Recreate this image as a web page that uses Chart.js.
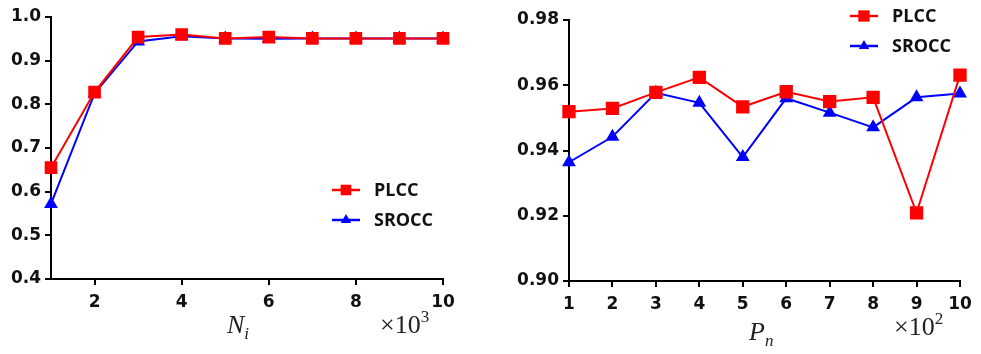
<!DOCTYPE html>
<html>
<head>
<meta charset="utf-8">
<script src="https://cdn.jsdelivr.net/npm/chart.js"></script>
<style>
  body { margin: 0; background: #fff; }
  .wrap { display: flex; width: 981px; height: 354px; }
  .box { position: relative; height: 354px; }
</style>
</head>
<body>
<div class="wrap">
  <div class="box" style="width:490px"><canvas id="left"></canvas></div>
  <div class="box" style="width:491px"><canvas id="right"></canvas></div>
</div>
<script>
// left panel: N_i (x10^3)
const niValues = [1, 2, 3, 4, 5, 6, 7, 8, 9, 10]
const niPlcc = [0.655, 0.828, 0.954, 0.960, 0.951, 0.954, 0.951, 0.951, 0.951, 0.951]
const niSrocc = [0.572, 0.825, 0.944, 0.956, 0.951, 0.950, 0.951, 0.951, 0.951, 0.951]
const niTicksX = [2, 4, 6, 8, 10]
const niTicksY = [0.4, 0.5, 0.6, 0.7, 0.8, 0.9, 1.0]

// right panel: P_n (x10^2)
const pnValues = [1, 2, 3, 4, 5, 6, 7, 8, 9, 10]
const pnPlcc = [0.9519, 0.9529, 0.9578, 0.9624, 0.9534, 0.9580, 0.9550, 0.9563, 0.9209, 0.9631]
const pnSrocc = [0.9364, 0.9442, 0.9577, 0.9546, 0.9380, 0.9560, 0.9516, 0.9471, 0.9563, 0.9575]
const pnTicksX = [1, 2, 3, 4, 5, 6, 7, 8, 9, 10]
const pnTicksY = [0.90, 0.92, 0.94, 0.96, 0.98]

const RED = '#ff0000'
const BLUE = '#0000ff'
const tickFont = { family: 'DejaVu Sans', size: 17, weight: 'bold' }

function toPoints(xs, ys) {
  return xs.map((x, i) => ({ x: x, y: ys[i] }))
}

function drawMarker(ctx, style, x, y, r, color) {
  ctx.fillStyle = color
  ctx.beginPath()
  if (style === 'rect') {
    const s = Math.SQRT1_2 * r
    ctx.rect(x - s, y - s, 2 * s, 2 * s)
  } else {
    ctx.moveTo(x, y - r)
    ctx.lineTo(x + Math.sin(2 * Math.PI / 3) * r, y - Math.cos(2 * Math.PI / 3) * r)
    ctx.lineTo(x + Math.sin(4 * Math.PI / 3) * r, y - Math.cos(4 * Math.PI / 3) * r)
    ctx.closePath()
  }
  ctx.fill()
}

// legend + math-style axis titles drawn on top of the chart
const decorations = {
  id: 'decorations',
  afterDraw(chart, args, opts) {
    const ctx = chart.ctx
    ctx.save()
    chart.data.datasets.forEach((ds, i) => {
      const y = opts.legendY + i * 30
      ctx.strokeStyle = ds.borderColor
      ctx.lineWidth = 2.5
      ctx.beginPath()
      ctx.moveTo(opts.legendX, y)
      ctx.lineTo(opts.legendX + 28, y)
      ctx.stroke()
      drawMarker(ctx, ds.pointStyle, opts.legendX + 14, y, ds.pointRadius, ds.backgroundColor)
      ctx.fillStyle = '#111'
      ctx.font = 'bold 18px "Open Sans"'
      ctx.textBaseline = 'middle'
      ctx.fillText(ds.label, opts.legendX + 42, y + 1)
    })
    // axis title, N with subscript i
    ctx.fillStyle = '#222'
    ctx.textBaseline = 'alphabetic'
    ctx.font = 'italic 26px "Liberation Serif"'
    ctx.fillText(opts.title, opts.titleX, opts.titleY)
    const w = ctx.measureText(opts.title).width
    ctx.font = 'italic 17px "Liberation Serif"'
    ctx.fillText(opts.sub, opts.titleX + w, opts.titleY + 6)
    // multiplier
    ctx.font = '26px "Liberation Serif"'
    ctx.fillText('\u00d710', opts.multX, opts.multY)
    const mw = ctx.measureText('\u00d710').width
    ctx.font = '17px "Liberation Serif"'
    ctx.fillText(opts.exp, opts.multX + mw, opts.multY - 11)
    ctx.restore()
  }
}

function makeChart(id, cfg) {
  return new Chart(document.getElementById(id), {
    type: 'line',
    data: {
      datasets: [
        {
          label: 'PLCC',
          data: toPoints(cfg.xs, cfg.plcc),
          borderColor: RED,
          backgroundColor: RED,
          borderWidth: 2,
          pointStyle: 'rect',
          pointRadius: cfg.rectR,
          pointHoverRadius: cfg.rectR,
          clip: false
        },
        {
          label: 'SROCC',
          data: toPoints(cfg.xs, cfg.srocc),
          borderColor: BLUE,
          backgroundColor: BLUE,
          borderWidth: 2,
          pointStyle: 'triangle',
          pointRadius: 6,
          pointHoverRadius: 6,
          clip: false
        }
      ]
    },
    options: {
      responsive: true,
      maintainAspectRatio: false,
      animation: false,
      layout: { padding: cfg.padding },
      plugins: {
        legend: { display: false },
        tooltip: { enabled: false },
        decorations: cfg.deco
      },
      scales: {
        x: {
          type: 'linear',
          min: 1,
          max: 10,
          afterBuildTicks: (s) => { s.ticks = cfg.ticksX.map(v => ({ value: v })) },
          afterFit: (s) => { s.height = cfg.xHeight },
          border: { display: true, color: '#000', width: 2 },
          grid: { drawOnChartArea: false, drawTicks: true, tickLength: 6, color: '#000', lineWidth: 2 },
          ticks: { color: '#111', font: tickFont, padding: 7, maxRotation: 0, autoSkip: false }
        },
        y: {
          min: cfg.ticksY[0],
          max: cfg.ticksY[cfg.ticksY.length - 1],
          afterBuildTicks: (s) => { s.ticks = cfg.ticksY.map(v => ({ value: v })) },
          afterFit: (s) => { s.width = cfg.yWidth },
          border: { display: true, color: '#000', width: 2 },
          grid: { drawOnChartArea: false, drawTicks: true, tickLength: 6, color: '#000', lineWidth: 2 },
          ticks: { color: '#111', font: tickFont, padding: 4, callback: (v) => v.toFixed(cfg.decimals) }
        }
      }
    },
    plugins: [decorations]
  })
}

makeChart('left', {
  xs: niValues, plcc: niPlcc, srocc: niSrocc,
  ticksX: niTicksX, ticksY: niTicksY, decimals: 1,
  rectR: 7.5,
  padding: { left: 0, right: 47, top: 17, bottom: 0 },
  yWidth: 51, xHeight: 75,
  deco: { legendX: 332, legendY: 190, title: 'N', sub: 'i', titleX: 227, titleY: 333, multX: 380, multY: 333, exp: '3' }
})

makeChart('right', {
  xs: pnValues, plcc: pnPlcc, srocc: pnSrocc,
  ticksX: pnTicksX, ticksY: pnTicksY, decimals: 2,
  rectR: 8,
  padding: { left: 0, right: 21, top: 20, bottom: 0 },
  yWidth: 79, xHeight: 73,
  deco: { legendX: 360, legendY: 16, title: 'P', sub: 'n', titleX: 259, titleY: 340, multX: 404, multY: 335, exp: '2' }
})
</script>
</body>
</html>
